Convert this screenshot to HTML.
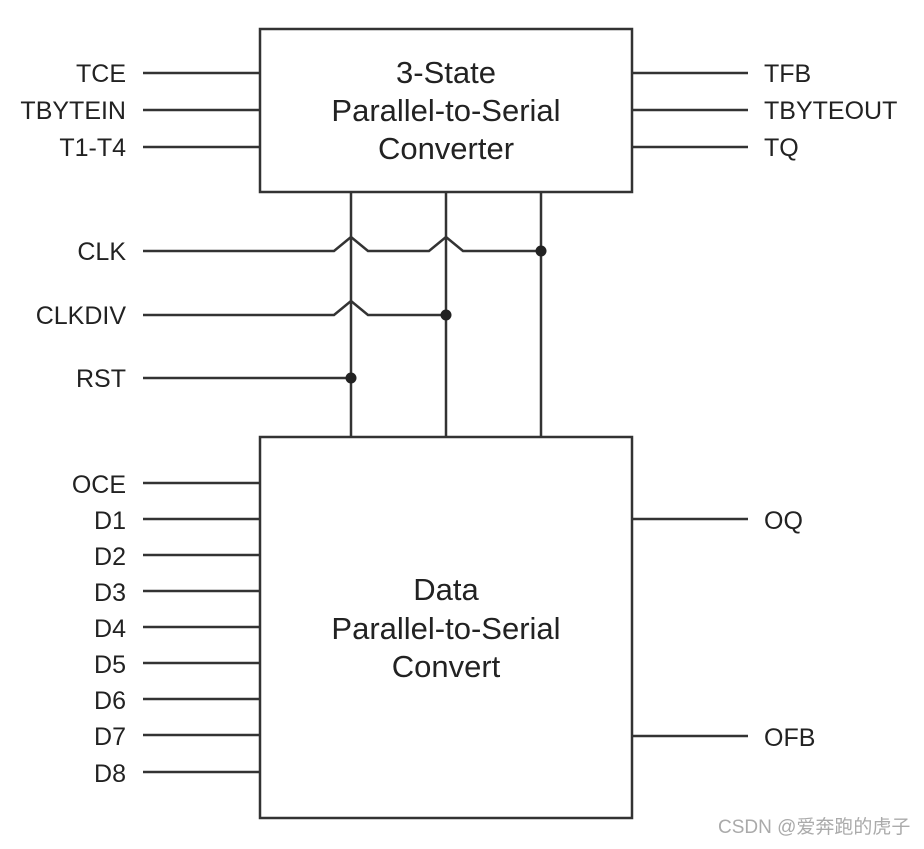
<!DOCTYPE html>
<html><head><style>
html,body{margin:0;padding:0;background:#fff;}
</style></head><body>
<svg width="924" height="844" viewBox="0 0 924 844" xmlns="http://www.w3.org/2000/svg" font-family="Liberation Sans, sans-serif">
<rect width="924" height="844" fill="#fff"/>
<g stroke="#333" stroke-width="2.5" fill="none">
<rect x="260" y="29" width="372" height="163"/>
<rect x="260" y="437" width="372" height="381"/>
<line x1="351" y1="192" x2="351" y2="437"/>
<line x1="446" y1="192" x2="446" y2="437"/>
<line x1="541" y1="192" x2="541" y2="437"/>
<polyline points="143,251 334,251 351,237 368,251 429,251 446,237 463,251 541,251"/>
<polyline points="143,315 334,315 351,301 368,315 446,315"/>
<line x1="143" y1="378" x2="351" y2="378"/>
<line x1="143" y1="73" x2="260" y2="73"/>
<line x1="143" y1="110" x2="260" y2="110"/>
<line x1="143" y1="147" x2="260" y2="147"/>
<line x1="632" y1="73" x2="748" y2="73"/>
<line x1="632" y1="110" x2="748" y2="110"/>
<line x1="632" y1="147" x2="748" y2="147"/>
<line x1="143" y1="483" x2="260" y2="483"/>
<line x1="143" y1="519" x2="260" y2="519"/>
<line x1="143" y1="555" x2="260" y2="555"/>
<line x1="143" y1="591" x2="260" y2="591"/>
<line x1="143" y1="627" x2="260" y2="627"/>
<line x1="143" y1="663" x2="260" y2="663"/>
<line x1="143" y1="699" x2="260" y2="699"/>
<line x1="143" y1="735" x2="260" y2="735"/>
<line x1="143" y1="772" x2="260" y2="772"/>
<line x1="632" y1="519" x2="748" y2="519"/>
<line x1="632" y1="736" x2="748" y2="736"/>
</g>
<g fill="#222">
<circle cx="541" cy="251" r="5.5"/>
<circle cx="446" cy="315" r="5.5"/>
<circle cx="351" cy="378" r="5.5"/>
</g>
<g fill="#222" font-size="25" text-anchor="end">
<text x="126" y="82">TCE</text>
<text x="126" y="119">TBYTEIN</text>
<text x="126" y="156">T1-T4</text>
<text x="126" y="260">CLK</text>
<text x="126" y="324">CLKDIV</text>
<text x="126" y="387">RST</text>
<text x="126" y="493">OCE</text>
<text x="126" y="529">D1</text>
<text x="126" y="565">D2</text>
<text x="126" y="601">D3</text>
<text x="126" y="637">D4</text>
<text x="126" y="673">D5</text>
<text x="126" y="709">D6</text>
<text x="126" y="745">D7</text>
<text x="126" y="782">D8</text>
</g>
<g fill="#222" font-size="25">
<text x="764" y="82">TFB</text>
<text x="764" y="119">TBYTEOUT</text>
<text x="764" y="156">TQ</text>
<text x="764" y="529">OQ</text>
<text x="764" y="746">OFB</text>
</g>
<g fill="#222" font-size="31" text-anchor="middle">
<text x="446" y="83">3-State</text>
<text x="446" y="121">Parallel-to-Serial</text>
<text x="446" y="159">Converter</text>
<text x="446" y="600">Data</text>
<text x="446" y="639">Parallel-to-Serial</text>
<text x="446" y="677">Convert</text>
</g>
<text x="718" y="833" font-size="19" fill="#aaa" font-family="Liberation Sans, Noto Sans CJK SC, sans-serif">CSDN @爱奔跑的虎子</text>
</svg>
</body></html>
